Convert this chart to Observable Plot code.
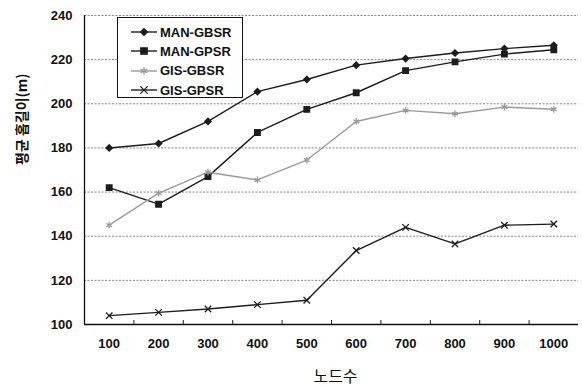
<!DOCTYPE html>
<html><head><meta charset="utf-8">
<script src="https://cdn.jsdelivr.net/npm/d3@7"></script>
<script src="https://cdn.jsdelivr.net/npm/@observablehq/plot@0.6"></script>
<style>
body{margin:0;background:#fff}
#chart{position:relative;width:582px;height:387px}
#legend{position:absolute;left:117px;top:17px;width:124px;height:79px;border:1.2px solid #111;background:#fff;
  font-family:'Liberation Sans',Arial,sans-serif;font-size:13px;font-weight:bold;color:#111}
.row{position:absolute;left:0;height:18px;display:flex;align-items:center}
.row svg{display:block}
</style>
</head><body><div id="chart"><div id="legend"></div></div>
<script>
const nodes = [100, 200, 300, 400, 500, 600, 700, 800, 900, 1000];
const manGbsr = [180, 182, 192, 205.5, 211, 217.5, 220.5, 223, 225, 226.5];
const manGpsr = [162, 154.5, 167, 187, 197.5, 205, 215, 219, 222.5, 224.5];
const gisGbsr = [145, 159.5, 169, 165.5, 174.5, 192, 197, 195.5, 198.5, 197.5];
const gisGpsr = [104, 105.5, 107, 109, 111, 133.5, 144, 136.5, 145, 145.5];
const seriesNames = ["MAN-GBSR", "MAN-GPSR", "GIS-GBSR", "GIS-GPSR"];
const seriesValues = [manGbsr, manGpsr, gisGbsr, gisGpsr];
const seriesColors = ["#1c1c1c", "#1c1c1c", "#9a9a9a", "#1c1c1c"];
const seriesSymbols = ["diamond2", "square", "asterisk", "times"];
const yTicks = [100, 120, 140, 160, 180, 200, 220, 240];
const xTickMarks = [150, 250, 350, 450, 550, 650, 750, 850, 950];
const yTitle = "평균 홉길이(m)";
const xTitle = "노드수";

const data = seriesNames.flatMap((s, i) => nodes.map((n, j) => ({series: s, nodes: n, value: seriesValues[i][j]})));
const rByS = {"MAN-GBSR": 3, "MAN-GPSR": 3.6, "GIS-GBSR": 3.6, "GIS-GPSR": 3.4};

const kr = "'Noto Sans CJK KR', sans-serif";
const chart = Plot.plot({
  width: 582, height: 387,
  marginLeft: 84, marginRight: 4, marginTop: 15, marginBottom: 63,
  style: {fontFamily: "'Liberation Sans', Arial, sans-serif", fontSize: "13px", fontWeight: "bold", background: "white", color: "#111"},
  x: {type: "linear", domain: [50, 1050]},
  y: {domain: [100, 240]},
  color: {domain: seriesNames, range: seriesColors},
  symbol: {domain: seriesNames, range: seriesSymbols},
  marks: [
    Plot.gridY(yTicks, {stroke: "#666", strokeOpacity: 1, strokeDasharray: "2,1.5", strokeWidth: 0.8}),
    Plot.axisY(yTicks, {tickSize: 0, tickPadding: 12, label: null}),
    Plot.axisX(nodes, {tickSize: 0, tickPadding: 14, label: null, tickFormat: "d"}),
    Plot.ruleX(xTickMarks, {x: d => d, y1: 100, y2: 101.8, stroke: "#222", strokeWidth: 1}),
    Plot.ruleY([100], {stroke: "#111", strokeWidth: 1.3}),
    Plot.ruleX([50], {stroke: "#111", strokeWidth: 1.3}),
    Plot.line(data, {x: "nodes", y: "value", z: "series", stroke: "series", strokeWidth: 1.4}),
    Plot.dot(data, {x: "nodes", y: "value", symbol: "series", stroke: "series", fill: "series", r: d => rByS[d.series], strokeWidth: 1.3}),
    Plot.text([yTitle], {frameAnchor: "left", dx: -62, dy: -5, rotate: -90, fontFamily: kr, fontSize: 14, fontWeight: "bold", fill: "#111"}),
    Plot.text([xTitle], {frameAnchor: "bottom", dx: 4, dy: 57, fontFamily: kr, fontSize: 16, fontWeight: "normal", fill: "#111"})
  ]
});
const host = document.getElementById("chart");
host.insertBefore(chart, host.firstChild);

// legend (HTML overlay)
const d3sym = {diamond2: d3.symbolDiamond2, square: d3.symbolSquare, asterisk: d3.symbolAsterisk, times: d3.symbolTimes};
const legend = d3.select("#legend");
seriesNames.forEach((s, i) => {
  const row = legend.append("div").attr("class", "row").style("top", (5 + i * 19.4) + "px");
  const sv = row.append("svg").attr("width", 41).attr("height", 18);
  sv.append("line").attr("x1", 13).attr("x2", 39).attr("y1", 9).attr("y2", 9)
    .attr("stroke", seriesColors[i]).attr("stroke-width", 1.4);
  const r = rByS[s];
  sv.append("path").attr("transform", "translate(26,9)")
    .attr("d", d3.symbol(d3sym[seriesSymbols[i]], Math.PI * r * r)())
    .attr("fill", seriesSymbols[i] === "square" || seriesSymbols[i] === "diamond2" ? seriesColors[i] : "none")
    .attr("stroke", seriesColors[i]).attr("stroke-width", 1.3);
  row.append("span").style("margin-left", "1px").text(s);
});
</script>
</body></html>
